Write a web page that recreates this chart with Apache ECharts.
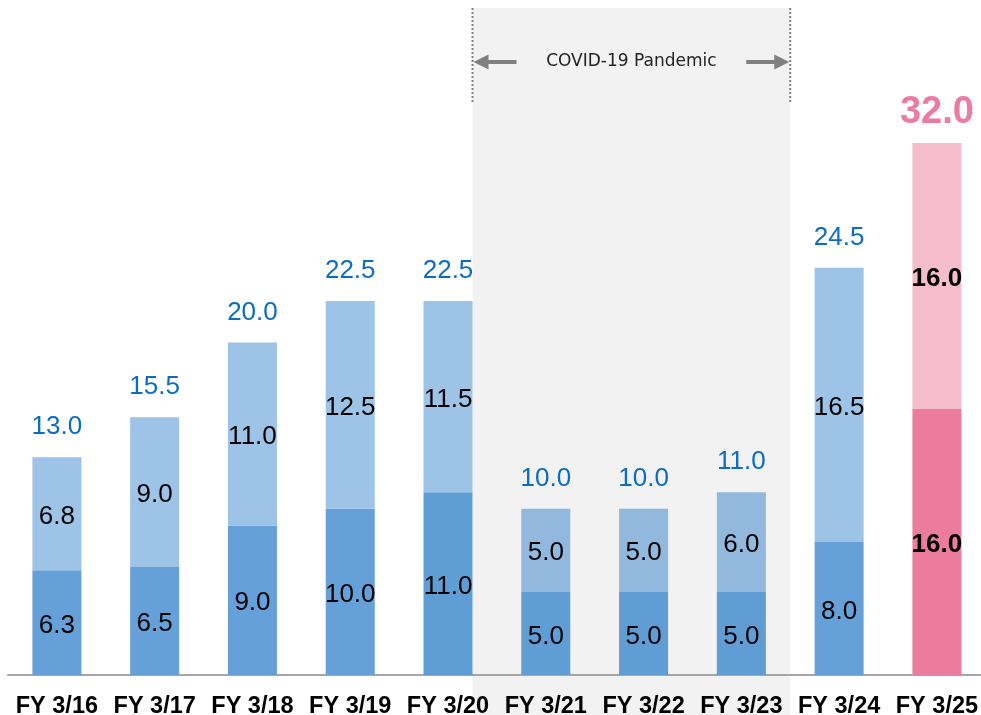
<!DOCTYPE html>
<html>
<head>
<meta charset="utf-8">
<script src="https://cdn.jsdelivr.net/npm/echarts@6/dist/echarts.min.js"></script>
<style>html,body{margin:0;padding:0;background:#fff}#c{width:981px;height:715px}</style>
</head>
<body>
<div id="c"></div>
<script>
var categories = ['FY 3/16','FY 3/17','FY 3/18','FY 3/19','FY 3/20','FY 3/21','FY 3/22','FY 3/23','FY 3/24','FY 3/25'];
var lowerValues = [6.3, 6.5, 9.0, 10.0, 11.0, 5.0, 5.0, 5.0, 8.0, 16.0];
var upperValues = [6.8, 9.0, 11.0, 12.5, 11.5, 5.0, 5.0, 6.0, 16.5, 16.0];
var totalLabels = ['13.0','15.5','20.0','22.5','22.5','10.0','10.0','11.0','24.5','32.0'];
var covidStartIndex = 4; // right edge of this bar
var covidEndIndex = 7;   // gap after this bar
var covidText = 'COVID-19 Pandemic';

var lowerColors = ['#65A1D8','#65A1D8','#65A1D8','#65A1D8','#5F9DD5','#5F9DD4','#5F9DD4','#5F9DD4','#65A1D8','#EC7BA0'];
var upperColors = ['#9DC3E6','#9DC3E6','#9DC3E6','#9DC3E6','#9DC3E6','#92B8DE','#92B8DE','#92B8DE','#9DC3E6','#F5BCCE'];
var BAR_W = 49;
var PINK_IDX = 9;

var chart = echarts.init(document.getElementById('c'), null, {renderer: 'canvas'});

function innerLabel(i) {
  var pink = i === PINK_IDX;
  return {
    show: true, position: 'inside', offset: [0, 3], color: '#000',
    fontFamily: 'Liberation Sans, Arial, sans-serif',
    fontSize: 26, fontWeight: pink ? 'bold' : 'normal'
  };
}

var option = {
  animation: false,
  backgroundColor: '#fff',
  grid: {left: 8, top: 10, bottom: 40, width: 977.8, containLabel: false, outerBoundsMode: 'none'},
  xAxis: {
    type: 'category', data: categories,
    axisLine: {show: true, lineStyle: {color: '#A6A6A6', width: 2}},
    axisTick: {show: false},
    axisLabel: {
      color: '#000', fontFamily: 'Liberation Sans, Arial, sans-serif',
      fontWeight: 'bold', fontSize: 23.5, margin: 20, interval: 0
    }
  },
  yAxis: {type: 'value', min: 0, max: 40, show: false, splitLine: {show: false}},
  series: [
    {
      type: 'bar', stack: 's', barWidth: BAR_W, z: 3,
      data: lowerValues.map(function (v, i) {
        return {value: v, itemStyle: {color: lowerColors[i]}, label: innerLabel(i)};
      }),
      label: {formatter: function (p) { return p.value.toFixed(1); }}
    },
    {
      type: 'bar', stack: 's', barWidth: BAR_W, z: 3,
      data: upperValues.map(function (v, i) {
        return {value: v, itemStyle: {color: upperColors[i]}, label: innerLabel(i)};
      }),
      label: {formatter: function (p) { return p.value.toFixed(1); }}
    },
    {
      type: 'bar', stack: 's', barWidth: BAR_W, z: 3,
      data: totalLabels.map(function (t, i) {
        var pink = i === PINK_IDX;
        return {
          value: 0,
          label: {
            show: true, position: 'top', distance: pink ? 11 : 17,
            formatter: t,
            color: pink ? '#EC7BA0' : '#0A6CC2',
            fontFamily: 'Liberation Sans, Arial, sans-serif',
            fontSize: pink ? 38 : 26,
            fontWeight: pink ? 'bold' : 'normal'
          }
        };
      })
    }
  ]
};
chart.setOption(option);

// COVID annotation, positioned from the category axis
var xStart = chart.convertToPixel({xAxisIndex: 0}, covidStartIndex) + BAR_W / 2;
var xEnd = (chart.convertToPixel({xAxisIndex: 0}, covidEndIndex) + chart.convertToPixel({xAxisIndex: 0}, covidEndIndex + 1)) / 2;
var topY = 8, dotBottom = 102, arrowY = 62;
var xMid = (xStart + xEnd) / 2;
var grey = '#808080';

chart.setOption({
  graphic: [
    {type: 'rect', z: -10, silent: true,
      shape: {x: xStart, y: topY, width: xEnd - xStart, height: 715 - topY},
      style: {fill: '#F2F2F2'}},
    {type: 'line', z: 5, shape: {x1: xStart, y1: topY, x2: xStart, y2: dotBottom},
      style: {stroke: grey, lineWidth: 2, lineDash: [2, 2]}},
    {type: 'line', z: 5, shape: {x1: xEnd, y1: topY, x2: xEnd, y2: dotBottom},
      style: {stroke: grey, lineWidth: 2, lineDash: [2, 2]}},
    {type: 'line', z: 5, shape: {x1: xStart + 10, y1: arrowY, x2: xStart + 44, y2: arrowY},
      style: {stroke: grey, lineWidth: 4}},
    {type: 'polygon', z: 5, shape: {points: [[xStart + 1, arrowY], [xStart + 16, arrowY - 7.5], [xStart + 16, arrowY + 7.5]]},
      style: {fill: grey}},
    {type: 'line', z: 5, shape: {x1: xEnd - 44, y1: arrowY, x2: xEnd - 10, y2: arrowY},
      style: {stroke: grey, lineWidth: 4}},
    {type: 'polygon', z: 5, shape: {points: [[xEnd - 1, arrowY], [xEnd - 16, arrowY - 7.5], [xEnd - 16, arrowY + 7.5]]},
      style: {fill: grey}},
    {type: 'text', z: 5, x: xMid, y: arrowY,
      style: {text: covidText, fill: '#222', font: '17px "DejaVu Sans", sans-serif', align: 'center', verticalAlign: 'middle'}}
  ]
});
</script>
</body>
</html>
